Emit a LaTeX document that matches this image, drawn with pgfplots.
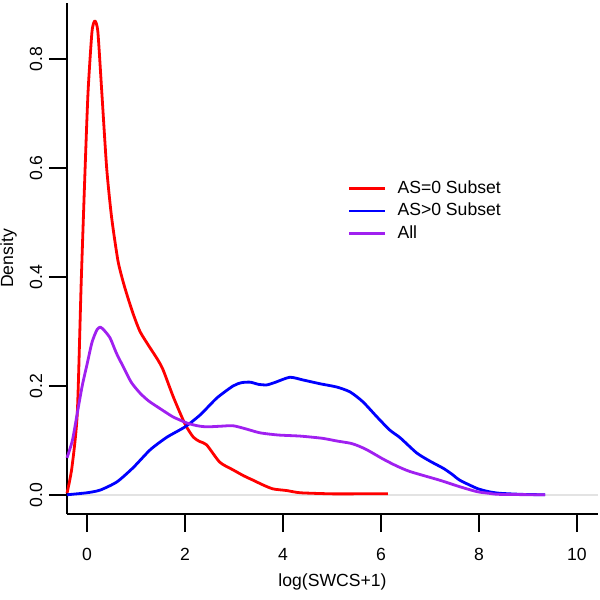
\documentclass[border=0pt]{standalone}
\usepackage{fontspec}
\setmainfont{Liberation Sans}
\usepackage{pgfplots}
\pgfplotsset{compat=1.18}
\definecolor{rpurple}{HTML}{A020F0}
\begin{document}
\begin{tikzpicture}
\useasboundingbox (-33.5pt,-43pt) rectangle (266.5pt,257pt);
\begin{axis}[
  at={(0pt,0pt)}, anchor=south west,
  scale only axis, width=265.5pt, height=255.5pt,
  xmin=-0.41, xmax=10.43, ymin=-0.035, ymax=0.903,
  axis x line*=bottom, axis y line*=left,
  axis line style={line width=0.8pt, -},
  tick align=outside, major tick length=9pt,
  major tick style={black, line width=0.8pt},
  xtick={0,2,4,6,8,10},
  ytick={0,0.2,0.4,0.6,0.8},
  yticklabels={0.0,0.2,0.4,0.6,0.8},
  /pgf/number format/assume math mode=true,
  tick label style={font=\fontsize{8.8}{10}\selectfont},
  xticklabel style={anchor=center, yshift=-11pt},
  yticklabel style={rotate=90, anchor=center, yshift=6.5pt},
  xlabel={log(SWCS+1)},
  ylabel={Density},
  label style={font=\fontsize{8.8}{10}\selectfont},
  xlabel style={at={(axis description cs:0.5,0)}, anchor=center, yshift=-34pt},
  ylabel style={at={(axis description cs:0,0.5)}, anchor=center, rotate=0, yshift=29.25pt},
  legend style={draw=none, fill=none, at={(axis description cs:0.528,0.593)}, anchor=west,
    font=\fontsize{8.8}{10}\selectfont, inner sep=0pt, row sep=-0.75pt,
    nodes={inner sep=2pt}},
  legend cell align=left,
  legend image code/.code={\draw[#1] (0pt,0pt) -- (18pt,0pt); \path (21.5pt,0pt);},
  clip=false,
]
\addplot[gray!22, line width=0.6pt, forget plot] coordinates {(-0.41,0) (10.43,0)};
\addplot[red, line width=1.4pt, line join=round, smooth, tension=0.4] coordinates {
(-0.41,0.003)(-0.31,0.05)(-0.2,0.15)(-0.12,0.39)(-0.04,0.60)(0.02,0.74)(0.1,0.85)(0.16,0.87)(0.22,0.85)(0.3,0.74)(0.4,0.60)(0.5,0.51)(0.63,0.43)(0.74,0.39)(0.84,0.36)(0.95,0.33)(1.08,0.30)(1.25,0.275)(1.43,0.25)(1.55,0.23)(1.76,0.18)(2.0,0.13)(2.17,0.106)(2.3,0.098)(2.44,0.092)(2.71,0.06)(2.98,0.046)(3.2,0.035)(3.39,0.027)(3.6,0.018)(3.8,0.011)(4.08,0.008)(4.35,0.004)(5.0,0.002)(5.5,0.002)(6.14,0.002)};
\addlegendentry{AS=0 Subset}
\addplot[blue, line width=1.4pt, line join=round, smooth, tension=0.4] coordinates {
(-0.41,0.0003)(0,0.004)(0.27,0.009)(0.61,0.024)(0.94,0.05)(1.29,0.083)(1.63,0.106)(2.0,0.125)(2.31,0.147)(2.65,0.178)(2.98,0.20)(3.15,0.206)(3.33,0.207)(3.5,0.203)(3.67,0.202)(3.85,0.207)(4.14,0.216)(4.41,0.211)(4.76,0.204)(5.1,0.198)(5.37,0.189)(5.63,0.171)(5.92,0.143)(6.18,0.119)(6.39,0.105)(6.73,0.077)(7.0,0.062)(7.27,0.049)(7.45,0.038)(7.61,0.027)(7.96,0.012)(8.2,0.006)(8.43,0.003)(8.9,0.001)(9.35,0.0003)};
\addlegendentry{AS>0 Subset}
\addplot[rpurple, line width=1.4pt, line join=round, smooth, tension=0.4] coordinates {
(-0.41,0.068)(-0.3,0.10)(-0.2,0.15)(-0.1,0.2)(0,0.24)(0.1,0.28)(0.2,0.303)(0.27,0.308)(0.35,0.302)(0.47,0.288)(0.6,0.26)(0.74,0.235)(0.9,0.207)(1.08,0.187)(1.25,0.173)(1.43,0.162)(1.6,0.152)(1.76,0.143)(2.04,0.132)(2.25,0.127)(2.44,0.125)(2.7,0.126)(2.98,0.127)(3.25,0.121)(3.53,0.114)(3.9,0.110)(4.35,0.108)(4.8,0.104)(5.1,0.099)(5.37,0.095)(5.51,0.091)(5.71,0.083)(6.04,0.066)(6.3,0.054)(6.59,0.043)(7.2,0.027)(7.61,0.015)(7.96,0.006)(8.2,0.003)(8.43,0.001)(9.35,0.0003)};
\addlegendentry{All}
\end{axis}
\end{tikzpicture}
\end{document}
